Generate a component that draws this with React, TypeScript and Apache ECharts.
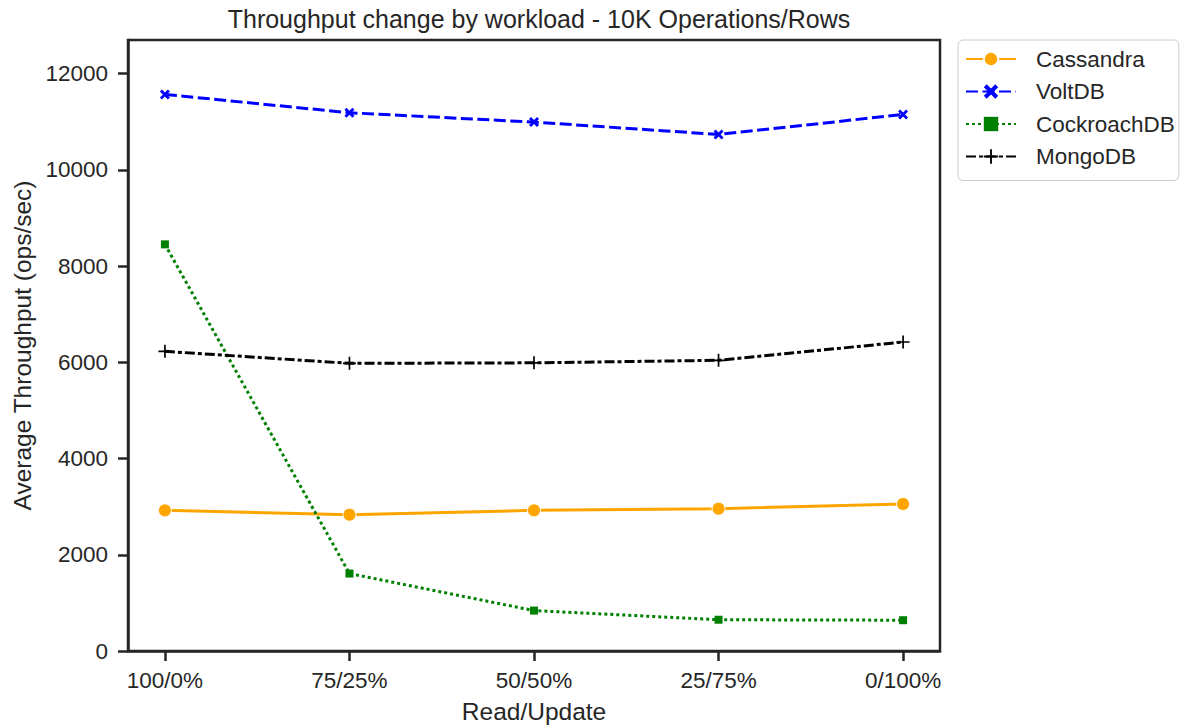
import React, { useEffect, useRef } from "react";
import * as echarts from "echarts";

const categories = ["100/0%", "75/25%", "50/50%", "25/75%", "0/100%"];
const cassandra = [2923, 2833, 2923, 2958, 3056];
const voltdb = [11569, 11188, 10994, 10736, 11152];
const cockroachdb = [8452, 1610, 840, 650, 640];
const mongodb = [6229, 5979, 5990, 6042, 6423];
const yTicks = [0, 2000, 4000, 6000, 8000, 10000, 12000];
const xTicks = [0, 1, 2, 3, 4];

const FONT = "Liberation Sans, Arial, sans-serif";
const TXT = "#262626";
const SPINE = "#262626";
const X_PATH = "path://M0,2 L2,0 L5,3 L8,0 L10,2 L7,5 L10,8 L8,10 L5,7 L2,10 L0,8 L3,5 Z";
const PLUS_PATH = "path://M4.35,0 H5.65 V4.35 H10 V5.65 H5.65 V10 H4.35 V5.65 H0 V4.35 H4.35 Z";

const toPts = (arr: number[]) => arr.map((v, i) => [i, v]);

export default function App() {
  const ref = useRef<HTMLDivElement>(null);
  useEffect(() => {
    document.body.style.margin = "0";
    const chart = echarts.init(ref.current!, null, { renderer: "svg" });
    chart.setOption({
      animation: false,
      backgroundColor: "#ffffff",
      title: {
        text: "Throughput change by workload - 10K Operations/Rows",
        left: 534,
        top: 1,
        textAlign: "center",
        textStyle: { fontFamily: FONT, fontSize: 25, fontWeight: "normal", color: TXT },
      },
      legend: {
        orient: "vertical",
        left: 958,
        top: 40,
        padding: [7, 4, 12, 7],
        itemWidth: 50,
        itemHeight: 18,
        itemGap: 8.5,
        borderColor: "#cccccc",
        borderWidth: 1,
        borderRadius: 5,
        textStyle: { fontFamily: FONT, fontSize: 22.5, color: TXT, lineHeight: 24, padding: [0, 0, 0, 15] },
        data: ["Cassandra", "VoltDB", "CockroachDB", "MongoDB"],
      },
      grid: {
        left: 128,
        right: 245,
        top: 40,
        bottom: 74,
        show: true,
        borderColor: SPINE,
        borderWidth: 2.5,
        containLabel: false,
        outerBoundsMode: "none",
      },
      xAxis: {
        type: "value",
        min: -0.2,
        max: 4.2,
        name: "Read/Update",
        nameLocation: "middle",
        nameGap: 48,
        nameTextStyle: { fontFamily: FONT, fontSize: 24.5, color: TXT },
        axisLine: { show: true, onZero: false, lineStyle: { color: SPINE, width: 2.5 } },
        axisTick: { show: true, length: 10, lineStyle: { color: SPINE, width: 2.5 }, customValues: xTicks },
        axisLabel: {
          fontFamily: FONT,
          fontSize: 22.5,
          color: TXT,
          margin: 18,
          customValues: xTicks,
          formatter: (v: number) => categories[Math.round(v)] ?? "",
        },
        splitLine: { show: false },
      },
      yAxis: {
        type: "value",
        min: 0,
        max: 12700,
        name: "Average Throughput (ops/sec)",
        nameLocation: "middle",
        nameGap: 93,
        nameTextStyle: { fontFamily: FONT, fontSize: 24.5, color: TXT },
        axisLine: { show: true, onZero: false, lineStyle: { color: SPINE, width: 2.5 } },
        axisTick: { show: true, length: 10, lineStyle: { color: SPINE, width: 2.5 }, customValues: yTicks },
        axisLabel: {
          fontFamily: FONT,
          fontSize: 22.5,
          color: TXT,
          margin: 20,
          customValues: yTicks,
          formatter: (v: number) => String(v),
        },
        splitLine: { show: false },
      },
      series: [
        {
          name: "Cassandra",
          type: "line",
          data: toPts(cassandra),
          symbol: "circle",
          symbolSize: 13,
          color: "#FFA500",
          lineStyle: { color: "#FFA500", width: 3, type: "solid" },
          itemStyle: { color: "#FFA500", borderColor: "#ffffff", borderWidth: 1 },
          z: 2,
        },
        {
          name: "VoltDB",
          type: "line",
          data: toPts(voltdb),
          symbol: X_PATH,
          symbolSize: 10,
          color: "#0000FF",
          lineStyle: { color: "#0000FF", width: 3, type: [12, 4.5] },
          itemStyle: { color: "#0000FF" },
          z: 3,
        },
        {
          name: "CockroachDB",
          type: "line",
          data: toPts(cockroachdb),
          symbol: "rect",
          symbolSize: 8,
          color: "#008000",
          lineStyle: { color: "#008000", width: 3, type: [3, 3] },
          itemStyle: { color: "#008000" },
          z: 4,
        },
        {
          name: "MongoDB",
          type: "line",
          data: toPts(mongodb),
          symbol: PLUS_PATH,
          symbolSize: 13,
          color: "#000000",
          lineStyle: { color: "#000000", width: 3, type: [10, 3, 4, 3] },
          itemStyle: { color: "#000000" },
          z: 5,
        },
      ],
    });
    return () => chart.dispose();
  }, []);
  return <div ref={ref} style={{ width: 1185, height: 725 }} />;
}
